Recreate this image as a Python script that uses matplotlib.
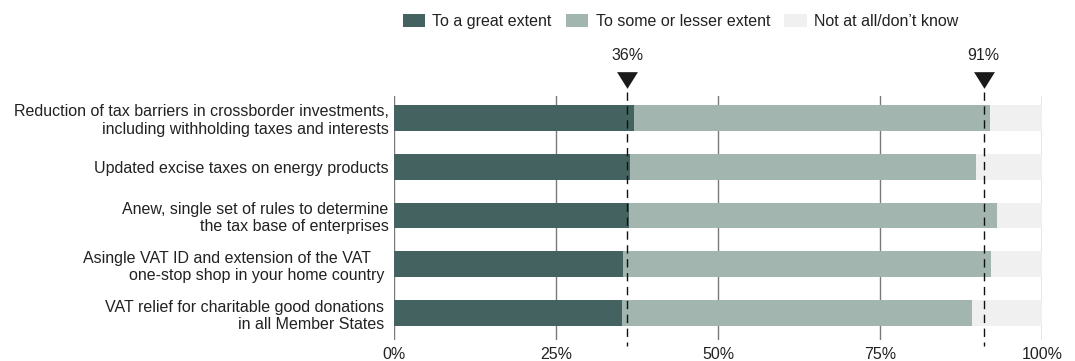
import matplotlib.pyplot as plt
import numpy as np

plt.rcParams['font.family'] = ['Liberation Sans', 'DejaVu Sans']

categories = [
    "Reduction of tax barriers in crossborder investments,\nincluding withholding taxes and interests",
    "Updated excise taxes on energy products",
    "Anew, single set of rules to determine\nthe tax base of enterprises",
    "Asingle VAT ID and extension of the VAT    \none-stop shop in your home country ",
    "VAT relief for charitable good donations \nin all Member States ",
]
great = [37.1, 36.4, 36.2, 35.4, 35.2]
some = [54.8, 53.4, 56.8, 56.8, 54.0]
series_names = ["To a great extent", "To some or lesser extent", "Not at all/don\u2019t know"]
markers = [36, 91]
ticks = [0, 25, 50, 75, 100]
tick_labels = ["0%", "25%", "50%", "75%", "100%"]

c_great = "#436260"
c_some = "#a2b6af"
c_none = "#f0f0f0"
txt = "#222222"
fs = 11.5

great = np.array(great)
some = np.array(some)
rest = 100 - great - some
y = np.arange(len(categories))

fig = plt.figure(figsize=(10.75, 3.61), dpi=100)
ax = fig.add_axes([394 / 1075, 1 - 340 / 361, 648 / 1075, 244 / 361])

for t in ticks:
    ax.axvline(t, color="#7a7a7a", lw=1.0, zorder=0)

h = 0.53
b1 = ax.barh(y, great, height=h, color=c_great, label=series_names[0], zorder=2)
b2 = ax.barh(y, some, left=great, height=h, color=c_some, label=series_names[1], zorder=2)
b3 = ax.barh(y, rest, left=great + some, height=h, color=c_none, label=series_names[2], zorder=1)

ax.set_xlim(0, 100)
ax.set_ylim(4.55, -0.45)

tri = [(-1.0, 0.8), (1.0, 0.8), (0.0, -0.8), (-1.0, 0.8)]
for m in markers:
    ax.plot([m, m], [-0.53, 4.67], color="#111111", lw=1.0, ls=(0, (6, 4)),
            clip_on=False, zorder=3)
    ax.plot([m], [-0.78], marker=tri, ms=15, color="#1a1a1a", mew=0,
            clip_on=False, zorder=4)
    ax.text(m, -1.29, f"{m}%", ha="center", va="center", fontsize=fs, color=txt)

ax.set_yticks(y)
ax.set_yticklabels(categories, fontsize=fs, color=txt, linespacing=1.2)
ax.set_xticks(ticks)
ax.set_xticklabels(tick_labels, fontsize=fs, color=txt)
ax.tick_params(length=0, pad=4)
ax.tick_params(axis="x", pad=5)
for s in ax.spines.values():
    s.set_visible(False)

fig.legend(handles=[b1, b2, b3], loc="center", bbox_to_anchor=(0.633, 0.94),
           ncol=3, frameon=False, fontsize=fs, handlelength=1.4, handleheight=0.9,
           handletextpad=0.45, columnspacing=0.9, labelcolor=txt)

fig.savefig("out.png", dpi=100)
